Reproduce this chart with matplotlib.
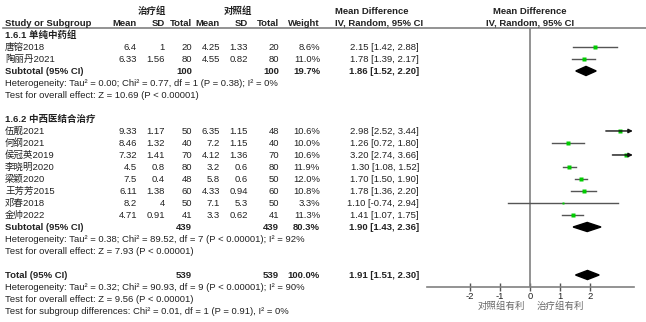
import numpy as np
import matplotlib.pyplot as plt
from matplotlib.patches import Polygon

plt.rcParams['font.family'] = ['Liberation Sans', 'Noto Sans CJK SC']

# study rows
studies = ['唐镕2018', '陶丽丹2021',
           '伍靓2021', '何纲2021', '侯冠英2019', '李晓明2020', '梁颖2020',
           '王芳芳2015', '邓春2018', '金帅2022']
t_mean = ['6.4', '6.33', '9.33', '8.46', '7.32', '4.5', '7.5', '6.11', '8.2', '4.71']
t_sd = ['1', '1.56', '1.17', '1.32', '1.41', '0.8', '0.4', '1.38', '4', '0.91']
t_n = [20, 80, 50, 40, 70, 80, 48, 60, 50, 41]
c_mean = ['4.25', '4.55', '6.35', '7.2', '4.12', '3.2', '5.8', '4.33', '7.1', '3.3']
c_sd = ['1.33', '0.82', '1.15', '1.15', '1.36', '0.6', '0.6', '0.94', '5.3', '0.62']
c_n = [20, 80, 48, 40, 70, 80, 50, 60, 50, 41]
weight = [8.6, 11.0, 10.6, 10.0, 10.6, 11.9, 12.0, 10.8, 3.3, 11.3]
md = [2.15, 1.78, 2.98, 1.26, 3.20, 1.30, 1.70, 1.78, 1.10, 1.41]
lo = [1.42, 1.39, 2.52, 0.72, 2.74, 1.08, 1.50, 1.36, -0.74, 1.07]
hi = [2.88, 2.17, 3.44, 1.80, 3.66, 1.52, 1.90, 2.20, 2.94, 1.75]

# pooled estimates
pooled_names = ['Subtotal (95% CI)', 'Subtotal (95% CI)', 'Total (95% CI)']
pooled_t_n = [100, 439, 539]
pooled_c_n = [100, 439, 539]
pooled_w = ['19.7%', '80.3%', '100.0%']
pooled_md = [1.86, 1.90, 1.91]
pooled_lo = [1.52, 1.43, 1.51]
pooled_hi = [2.20, 2.36, 2.30]

het_lines = ['Heterogeneity: Tau² = 0.00; Chi² = 0.77, df = 1 (P = 0.38); I² = 0%',
             'Test for overall effect: Z = 10.69 (P < 0.00001)',
             'Heterogeneity: Tau² = 0.38; Chi² = 89.52, df = 7 (P < 0.00001); I² = 92%',
             'Test for overall effect: Z = 7.93 (P < 0.00001)',
             'Heterogeneity: Tau² = 0.32; Chi² = 90.93, df = 9 (P < 0.00001); I² = 90%',
             'Test for overall effect: Z = 9.56 (P < 0.00001)',
             'Test for subgroup differences: Chi² = 0.01, df = 1 (P = 0.91), I² = 0%']
subgroups = ['1.6.1 单纯中药组', '1.6.2 中西医结合治疗']
ticks = [-2, -1, 0, 1, 2]

# row layout: row r sits at 11 + 12*r pixels from the top
subgroup_rows = [2, 9]
study_rows = [3, 4, 10, 11, 12, 13, 14, 15, 16, 17]
pooled_rows = [5, 18, 22]
het_rows = [6, 7, 19, 20, 23, 24, 25]

W, H = 646, 322
XMAX = 3.42
fs = 6.8
txt = '#222222'

fig = plt.figure(figsize=(W / 100, H / 100), dpi=100)
tab = fig.add_axes([0, 0, 1, 1])
tab.set_xlim(0, W)
tab.set_ylim((H - 11) / 12, -11 / 12)
tab.axis('off')

# column right edges (px)
x_name, x_tm, x_tsd, x_tn, x_cm, x_csd, x_cn, x_w, x_ci = 5, 137, 165, 192, 220, 248, 279, 320, 419

# header
tab.text(152, 0, '治疗组', ha='center', va='center', fontsize=fs, fontweight='bold', color=txt)
tab.text(238, 0, '对照组', ha='center', va='center', fontsize=fs, fontweight='bold', color=txt)
tab.text(335, 0, 'Mean Difference', ha='left', va='center', fontsize=fs, fontweight='bold', color=txt)
tab.text(530, 0, 'Mean Difference', ha='center', va='center', fontsize=fs, fontweight='bold', color=txt)
cols = [(x_name, 'Study or Subgroup', 'left'), (x_tm, 'Mean', 'right'), (x_tsd, 'SD', 'right'),
        (x_tn, 'Total', 'right'), (x_cm, 'Mean', 'right'), (x_csd, 'SD', 'right'),
        (x_cn, 'Total', 'right'), (x_w, 'Weight', 'right'), (335, 'IV, Random, 95% CI', 'left')]
for x, s, ha in cols:
    tab.text(x, 1, s, ha=ha, va='center', fontsize=fs, fontweight='bold', color=txt)
tab.text(530, 1, 'IV, Random, 95% CI', ha='center', va='center', fontsize=fs, fontweight='bold', color=txt)
tab.plot([3, W], [1.42, 1.42], color='#808080', lw=1.2)

for r, s in zip(subgroup_rows, subgroups):
    tab.text(x_name, r, s, ha='left', va='center', fontsize=fs, fontweight='bold', color=txt)

for i, r in enumerate(study_rows):
    vals = [(x_name, studies[i], 'left'), (x_tm, t_mean[i], 'right'), (x_tsd, t_sd[i], 'right'),
            (x_tn, str(t_n[i]), 'right'), (x_cm, c_mean[i], 'right'), (x_csd, c_sd[i], 'right'),
            (x_cn, str(c_n[i]), 'right'), (x_w, f'{weight[i]:.1f}%', 'right'),
            (x_ci, f'{md[i]:.2f} [{lo[i]:.2f}, {hi[i]:.2f}]', 'right')]
    for x, s, ha in vals:
        tab.text(x, r, s, ha=ha, va='center', fontsize=fs, color=txt)

for i, r in enumerate(pooled_rows):
    vals = [(x_name, pooled_names[i], 'left'), (x_tn, str(pooled_t_n[i]), 'right'),
            (x_cn, str(pooled_c_n[i]), 'right'), (x_w, pooled_w[i], 'right'),
            (x_ci, f'{pooled_md[i]:.2f} [{pooled_lo[i]:.2f}, {pooled_hi[i]:.2f}]', 'right')]
    for x, s, ha in vals:
        tab.text(x, r, s, ha=ha, va='center', fontsize=fs, fontweight='bold', color=txt)

for r, s in zip(het_rows, het_lines):
    tab.text(x_name, r, s, ha='left', va='center', fontsize=fs, color=txt)

# forest panel
top_r, bot_r = 1.42, (286.7 - 11) / 12
ax = fig.add_axes([427 / W, 1 - 286.7 / H, 207 / W, (286.7 - 28) / H])
ax.set_xlim(-3.44, 3.46)
ax.set_ylim(bot_r, top_r)
ax.patch.set_alpha(0)
for s in ['top', 'right', 'left']:
    ax.spines[s].set_visible(False)
ax.spines['bottom'].set_color('#808080')
ax.spines['bottom'].set_linewidth(1.2)
ax.set_yticks([])
ax.set_xticks(ticks)
ax.set_xticklabels([str(t) for t in ticks], fontsize=fs, color=txt)
ax.tick_params(axis='x', direction='inout', length=6, width=1, color='#555555', pad=1)
ax.axvline(0, color='#808080', lw=1.2)

for i, r in enumerate(study_rows):
    if hi[i] > XMAX:
        ax.annotate('', xy=(XMAX, r), xytext=(lo[i], r),
                    arrowprops=dict(arrowstyle='-|>', color='#111111', lw=1, mutation_scale=6,
                                    shrinkA=0, shrinkB=0))
    else:
        ax.plot([lo[i], hi[i]], [r, r], color='#555555', lw=1)
    ax.plot(md[i], r, 's', color='#00cc00', markersize=0.9 * np.sqrt(weight[i]), mec='none')

for i, r in enumerate(pooled_rows):
    d = 0.38
    poly = Polygon([[pooled_lo[i], r], [pooled_md[i], r - d], [pooled_hi[i], r], [pooled_md[i], r + d]],
                   closed=True, color='black')
    ax.add_patch(poly)

tab.text(525, 24.6, '对照组有利', ha='right', va='center', fontsize=fs, color='#666666')
tab.text(537, 24.6, '治疗组有利', ha='left', va='center', fontsize=fs, color='#666666')

fig.savefig('out.png', dpi=100)
